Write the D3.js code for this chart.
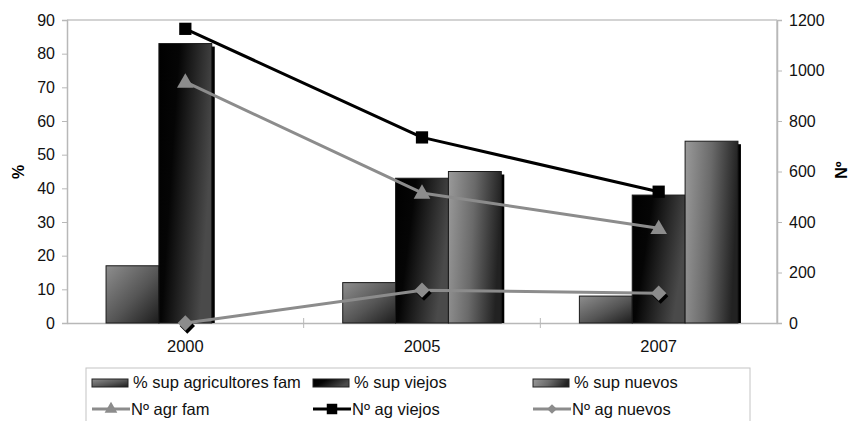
<!DOCTYPE html>
<html>
<head>
<meta charset="utf-8">
<script src="https://cdn.jsdelivr.net/npm/d3@7/dist/d3.min.js"></script>
<style>
  html, body { margin: 0; padding: 0; background: #ffffff; }
  svg { display: block; font-family: "Liberation Sans", Arial, sans-serif; }
</style>
</head>
<body>
<svg id="chart" width="849" height="421"></svg>
<script>
// Years on the category axis
const years = ["2000", "2005", "2007"];

// Bar series: % of surface (left axis)
const barSeries = ["% sup agricultores fam", "% sup viejos", "% sup nuevos"];
const supAgricultoresFam = [17, 12, 8];
const supViejos = [83, 43, 38];
const supNuevos = [0, 45, 54];

// Line series: number of farmers (right axis)
const lineSeries = ["Nº agr fam", "Nº ag viejos", "Nº ag nuevos"];
const nAgrFam = [955, 515, 375];
const nAgViejos = [1165, 735, 520];
const nAgNuevos = [0, 130, 118];

// Axis ticks
const leftTicks = [0, 10, 20, 30, 40, 50, 60, 70, 80, 90];
const rightTicks = [0, 200, 400, 600, 800, 1000, 1200];

const svg = d3.select("#chart");
const plot = { left: 67, right: 777, top: 20, bottom: 323 };

const x = d3.scaleBand().domain(years)
  .range([plot.left, plot.right]).paddingInner(0.33).paddingOuter(0.165);
const xs = d3.scaleBand().domain(barSeries).range([0, x.bandwidth()]);
const yL = d3.scaleLinear().domain([0, 90]).range([plot.bottom, plot.top]);
const yR = d3.scaleLinear().domain([0, 1200]).range([plot.bottom, plot.top]);

// Gradients for the bar fills
const defs = svg.append("defs");
function grad(id, x2, y2, stops) {
  const g = defs.append("linearGradient").attr("id", id)
    .attr("x1", 0).attr("y1", 0).attr("x2", x2).attr("y2", y2);
  stops.forEach(([o, c]) => g.append("stop").attr("offset", o).attr("stop-color", c));
}
grad("gFam", 1, 1, [[0, "#8e8e8e"], [0.55, "#555555"], [1, "#1c1c1c"]]);
grad("gViejos", 1, 0.35, [[0, "#000000"], [0.35, "#050505"], [1, "#4a4a4a"]]);
grad("gNuevos", 1, 0.15, [[0, "#9a9a9a"], [0.5, "#6a6a6a"], [1, "#222222"]]);
const fills = ["url(#gFam)", "url(#gViejos)", "url(#gNuevos)"];

// Plot area frame
const frame = svg.append("g").attr("stroke", "#c4c4c4").attr("stroke-width", 1.5).attr("fill", "none");
frame.append("line").attr("x1", plot.left).attr("x2", plot.right).attr("y1", plot.top).attr("y2", plot.top);
frame.append("line").attr("x1", plot.right).attr("x2", plot.right).attr("y1", plot.top).attr("y2", plot.bottom);

// Left axis
const axL = svg.append("g").attr("transform", `translate(${plot.left},0)`)
  .call(d3.axisLeft(yL).tickValues(leftTicks).tickSize(5).tickPadding(7).tickFormat(d3.format("d")));
// Right axis
const axR = svg.append("g").attr("transform", `translate(${plot.right},0)`)
  .call(d3.axisRight(yR).tickValues(rightTicks).tickSize(5).tickPadding(7).tickFormat(d3.format("d")));
[axL, axR].forEach(a => {
  a.select(".domain").attr("stroke", "#b8b8b8").attr("stroke-width", 1.5);
  a.selectAll(".tick line").attr("stroke", "#b8b8b8");
  a.selectAll("text").attr("font-size", 16).attr("fill", "#111")
    .attr("font-family", "Liberation Sans, Arial, sans-serif");
});

// Category axis
const axB = svg.append("g").attr("transform", `translate(0,${plot.bottom})`)
  .call(d3.axisBottom(x).tickSize(0).tickPadding(17));
axB.select(".domain").attr("stroke", "#b8b8b8").attr("stroke-width", 1.5);
axB.selectAll("text").attr("font-size", 16.5).attr("fill", "#111")
  .attr("font-family", "Liberation Sans, Arial, sans-serif");
// Tick marks between categories
const step = x.step();
const bounds = d3.range(1, years.length).map(i => plot.left + i * step);
axB.selectAll(".sep").data(bounds).enter().append("line")
  .attr("x1", d => d).attr("x2", d => d).attr("y1", -5).attr("y2", 5)
  .attr("stroke", "#b8b8b8");

// Axis titles
svg.append("text").attr("transform", "translate(24,172) rotate(-90)")
  .attr("text-anchor", "middle").attr("font-size", 16).attr("font-weight", "bold").text("%");
svg.append("text").attr("transform", "translate(847,170) rotate(-90)")
  .attr("text-anchor", "middle").attr("font-size", 16).attr("font-weight", "bold").text("Nº");

// Bars
const barData = [];
years.forEach((yr, i) => {
  [supAgricultoresFam, supViejos, supNuevos].forEach((arr, s) => {
    if (arr[i] > 0) barData.push({ yr, s, v: arr[i] });
  });
});
const bars = svg.append("g");
// drop shadow on the right side
bars.selectAll(".shadow").data(barData).enter().append("rect")
  .attr("x", d => x(d.yr) + xs(barSeries[d.s]) + 3)
  .attr("y", d => yL(d.v) + 3)
  .attr("width", xs.bandwidth())
  .attr("height", d => plot.bottom - yL(d.v) - 3)
  .attr("fill", "#000");
bars.selectAll(".bar").data(barData).enter().append("rect")
  .attr("x", d => x(d.yr) + xs(barSeries[d.s]))
  .attr("y", d => yL(d.v))
  .attr("width", xs.bandwidth())
  .attr("height", d => plot.bottom - yL(d.v))
  .attr("fill", d => fills[d.s])
  .attr("stroke", "#1a1a1a").attr("stroke-width", 1);

// Lines
const cx = yr => x(yr) + x.bandwidth() / 2;
const lineGen = d3.line().x(d => cx(d.yr)).y(d => yR(d.v));
const toPts = arr => years.map((yr, i) => ({ yr, v: arr[i] }));
const lines = [
  { data: toPts(nAgNuevos), color: "#8c8c8c", sym: d3.symbolDiamond2 },
  { data: toPts(nAgrFam), color: "#8c8c8c", sym: d3.symbolTriangle },
  { data: toPts(nAgViejos), color: "#000000", sym: d3.symbolSquare }
];
const lg = svg.append("g");
lines.forEach(L => {
  lg.append("path").attr("d", lineGen(L.data)).attr("fill", "none")
    .attr("stroke", L.color).attr("stroke-width", 3).attr("stroke-linejoin", "round");
});
// Markers
lines.forEach(L => {
  const size = L.sym === d3.symbolSquare ? 150 : (L.sym === d3.symbolTriangle ? 120 : 150);
  const g = lg.append("g");
  if (L.sym === d3.symbolDiamond2) {
    g.selectAll(".sh").data(L.data).enter().append("path")
      .attr("d", d3.symbol(L.sym, size)())
      .attr("transform", d => `translate(${cx(d.yr) + 2},${yR(d.v) + 3})`)
      .attr("fill", "#000");
  }
  g.selectAll(".mk").data(L.data).enter().append("path")
    .attr("d", d3.symbol(L.sym, size)())
    .attr("transform", d => `translate(${cx(d.yr)},${yR(d.v) - (L.sym === d3.symbolTriangle ? -1 : 0)})`)
    .attr("fill", L.color);
});

// Legend
const legend = svg.append("g");
legend.append("rect").attr("x", 86).attr("y", 368).attr("width", 664).attr("height", 70)
  .attr("fill", "#fff").attr("stroke", "#c4c4c4").attr("stroke-width", 1);
const colX = [92, 313, 533];
barSeries.forEach((name, i) => {
  legend.append("rect").attr("x", colX[i]).attr("y", 379).attr("width", 36).attr("height", 8)
    .attr("fill", fills[i]).attr("stroke", "#222").attr("stroke-width", 1);
  legend.append("text").attr("x", colX[i] + 41).attr("y", 388)
    .attr("font-size", 16.5).attr("fill", "#111").text(name);
});
const legLines = [
  { color: "#8c8c8c", sym: d3.symbolTriangle, size: 70 },
  { color: "#000000", sym: d3.symbolSquare, size: 110 },
  { color: "#8c8c8c", sym: d3.symbolDiamond2, size: 60 }
];
lineSeries.forEach((name, i) => {
  const L = legLines[i];
  legend.append("line").attr("x1", colX[i]).attr("x2", colX[i] + 38).attr("y1", 409).attr("y2", 409)
    .attr("stroke", L.color).attr("stroke-width", 3);
  legend.append("path").attr("d", d3.symbol(L.sym, L.size)())
    .attr("transform", `translate(${colX[i] + 19},409)`).attr("fill", L.color);
  legend.append("text").attr("x", colX[i] + 39).attr("y", 415)
    .attr("font-size", 16.5).attr("fill", "#111").text(name);
});
</script>
</body>
</html>
